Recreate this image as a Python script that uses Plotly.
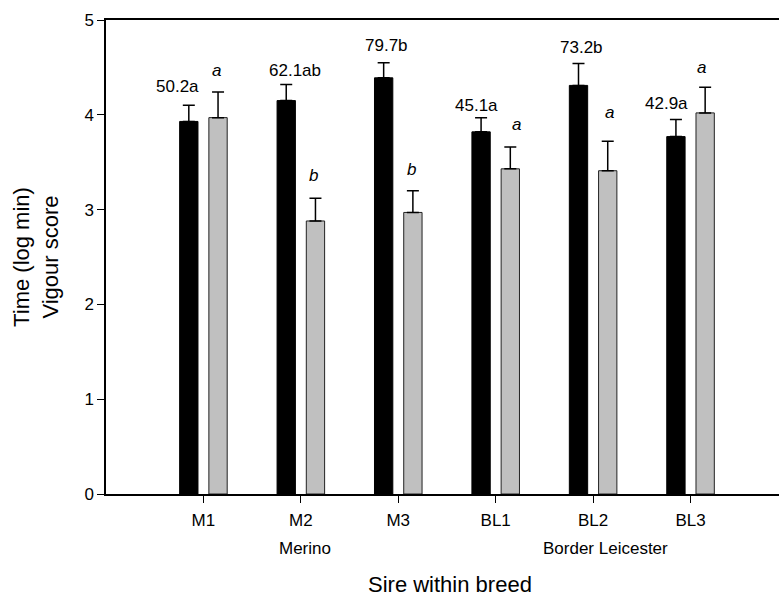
import plotly.graph_objects as go

sires = ["M1", "M2", "M3", "BL1", "BL2", "BL3"]
time_log = [3.93, 4.15, 4.39, 3.82, 4.31, 3.77]
time_se = [0.17, 0.17, 0.16, 0.15, 0.23, 0.18]
vigour = [3.97, 2.88, 2.97, 3.43, 3.41, 4.02]
vigour_se = [0.27, 0.24, 0.23, 0.23, 0.31, 0.27]
time_labels = ["50.2a", "62.1ab", "79.7b", "45.1a", "73.2b", "42.9a"]
vigour_labels = ["a", "b", "b", "a", "a", "a"]
breeds = ["Merino", "Border Leicester"]
y_ticks = [0, 1, 2, 3, 4, 5]

FONT = "Liberation Sans, Arial, sans-serif"

fig = go.Figure()
fig.add_trace(go.Bar(
    x=sires, y=time_log, name="Time (log min)",
    marker=dict(color="#000000", line=dict(color="#000000", width=1)),
    error_y=dict(type="data", symmetric=False, array=time_se,
                 arrayminus=[0] * len(time_se), color="#000000",
                 thickness=1.5, width=6),
))
fig.add_trace(go.Bar(
    x=sires, y=vigour, name="Vigour score",
    marker=dict(color="#c0c0c0", line=dict(color="#222222", width=1)),
    error_y=dict(type="data", symmetric=False, array=vigour_se,
                 arrayminus=[0] * len(vigour_se), color="#000000",
                 thickness=1.5, width=6),
))

annotations = []
# label placement styling (pixel nudges)
t_dx = [-26, -6, -12, -19, -12, -24]
t_dy = [7, 2, 6, 1, 5, 5]
v_dx = [13, 13, 13, 21, 16, 11]
v_dy = [10, 11, 10, 11, 17, 8]
for i, s in enumerate(sires):
    annotations.append(dict(
        x=i, y=time_log[i] + time_se[i], xref="x", yref="y",
        text=time_labels[i], showarrow=False, yanchor="bottom",
        xshift=t_dx[i], yshift=t_dy[i],
        font=dict(family=FONT, size=17, color="#000000")))
    annotations.append(dict(
        x=i, y=vigour[i] + vigour_se[i], xref="x", yref="y",
        text="<i>" + vigour_labels[i] + "</i>", showarrow=False, yanchor="bottom",
        xshift=v_dx[i], yshift=v_dy[i],
        font=dict(family=FONT, size=17, color="#000000")))

annotations.append(dict(x=1, y=0, xref="x", yref="paper", text=breeds[0],
                        showarrow=False, yanchor="top", xshift=4, yshift=-43,
                        font=dict(family=FONT, size=17, color="#000000")))
annotations.append(dict(x=4, y=0, xref="x", yref="paper", text=breeds[1],
                        showarrow=False, yanchor="top", xshift=12, yshift=-43,
                        font=dict(family=FONT, size=17, color="#000000")))
annotations.append(dict(x=0.511, y=0, xref="paper", yref="paper",
                        text="Sire within breed", showarrow=False,
                        yanchor="top", yshift=-76,
                        font=dict(family=FONT, size=22, color="#000000")))

fig.update_layout(
    width=779, height=599,
    margin=dict(l=106, r=0, t=20, b=105, pad=0),
    paper_bgcolor="white", plot_bgcolor="white",
    barmode="group", bargap=0.4, bargroupgap=0.373,
    showlegend=False,
    font=dict(family=FONT, size=17, color="#000000"),
    annotations=annotations,
    xaxis=dict(
        type="category", categoryorder="array", categoryarray=sires,
        range=[-1, 5.908], showline=True, linecolor="#000000", linewidth=1.5,
        mirror=True, ticks="outside", ticklen=7, tickwidth=1.2,
        tickcolor="#000000", showgrid=False, zeroline=False,
        tickfont=dict(family=FONT, size=17, color="#000000"),
        ticklabelstandoff=3,
    ),
    yaxis=dict(
        range=[0, 5], tickvals=y_ticks, showline=True, linecolor="#000000",
        linewidth=1.5, mirror=False, ticks="outside", ticklen=7, tickwidth=1.2,
        tickcolor="#000000", showgrid=False, zeroline=False,
        tickfont=dict(family=FONT, size=17, color="#000000"),
        title=dict(text="Time (log min)<br>Vigour score", standoff=20,
                   font=dict(family=FONT, size=22, color="#000000")),
    ),
)

fig.write_html("out.html")
